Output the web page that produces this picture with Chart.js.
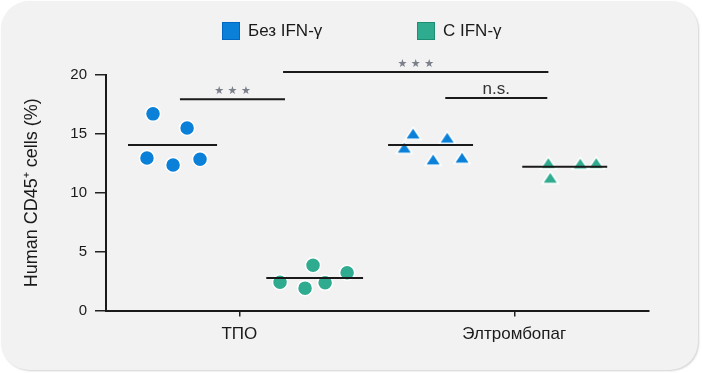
<!DOCTYPE html>
<html>
<head>
<meta charset="utf-8">
<script src="https://cdn.jsdelivr.net/npm/chart.js@4.4.1/dist/chart.umd.min.js"></script>
<style>
  html, body { margin: 0; padding: 0; background: #ffffff; }
  #wrap { position: relative; width: 702px; height: 373px; overflow: hidden; }
  #panel {
    position: absolute; left: 1px; top: 1px; width: 697px; height: 369px;
    background: #f2f2f2; border-radius: 28px;
    box-shadow: 1px 1px 2px rgba(0, 0, 0, 0.18);
  }
  canvas { position: absolute; left: 0; top: 0; }
  .legend-item {
    position: absolute; top: 22px; height: 18px; display: flex; align-items: center;
    font-family: "Liberation Sans", Arial, sans-serif; font-size: 17px; color: #1a1a1a;
  }
  .legend-box { width: 16px; height: 16px; margin-right: 8px; border: 1px solid; }
</style>
</head>
<body>
<div id="wrap">
  <div id="panel"></div>
  <canvas id="chart" width="702" height="373"></canvas>
  <div id="legend"></div>
</div>
<script>
//
// DATA
//

const categories = ["ТПО", "Элтромбопаг"];
const seriesNames = ["Без IFN-γ", "С IFN-γ"];
const seriesColors = ["#0a80d8", "#2fab8f"];
const seriesBorders = ["#0066c4", "#1c8e72"];
const yTicks = [0, 5, 10, 15, 20];

// individual animals, x is the jitter position around each category (1 = ТПО, 2 = Элтромбопаг)
const tpoNoIfnX = [0.686, 0.81, 0.664, 0.759, 0.857];
const tpoNoIfnY = [16.7, 15.5, 12.95, 12.35, 12.85];
const tpoIfnX = [1.148, 1.268, 1.239, 1.312, 1.392];
const tpoIfnY = [2.4, 3.85, 1.9, 2.35, 3.2];
const eltNoIfnX = [1.632, 1.756, 1.6, 1.705, 1.81];
const eltNoIfnY = [15.05, 14.7, 13.85, 12.85, 13.0];
const eltIfnX = [2.124, 2.24, 2.298, 2.131];
const eltIfnY = [12.55, 12.5, 12.55, 11.3];

// group means
const meanValues = [14.05, 2.75, 14.05, 12.2];
const meanStart = [0.595, 1.098, 1.541, 2.029];
const meanEnd = [0.919, 1.45, 1.85, 2.338];

// significance brackets
const sigStart = [0.784, 1.159, 1.749];
const sigEnd = [1.166, 2.124, 2.12];
const sigLevel = [17.95, 20.25, 18.04];
const sigLabels = ["★ ★ ★", "★ ★ ★", "n.s."];

//
// HELPER FUNCTIONS
//

function toPoints(xs, ys, shape) {
  return xs.map((x, i) => ({ x: x, y: ys[i], shape: shape }));
}

function segment(x0, x1, y) {
  return [{ x: x0, y: y }, { x: x1, y: y }];
}

// flat triangle marker with a white halo, used as a Chart.js pointStyle
function makeTriangle(color) {
  const c = document.createElement("canvas");
  c.width = 20;
  c.height = 16;
  const g = c.getContext("2d");
  g.beginPath();
  g.moveTo(10, 2);
  g.lineTo(18, 14);
  g.lineTo(2, 14);
  g.closePath();
  g.fillStyle = color;
  g.fill();
  g.lineWidth = 1.5;
  g.strokeStyle = "#ffffff";
  g.stroke();
  return c;
}

function buildLegend() {
  const legendElem = document.getElementById("legend");
  const lefts = [222, 417];
  seriesNames.forEach((name, i) => {
    const item = document.createElement("div");
    item.className = "legend-item";
    item.style.left = lefts[i] + "px";
    const box = document.createElement("span");
    box.className = "legend-box";
    box.style.background = seriesColors[i];
    box.style.borderColor = seriesBorders[i];
    item.appendChild(box);
    item.appendChild(document.createTextNode(name));
    legendElem.appendChild(item);
  });
}

const sigLabelPlugin = {
  id: "sigLabels",
  afterDatasetsDraw(chart) {
    const { ctx, scales } = chart;
    ctx.save();
    ctx.textAlign = "center";
    ctx.textBaseline = "middle";
    sigLabels.forEach((label, i) => {
      const x = scales.x.getPixelForValue((sigStart[i] + sigEnd[i]) / 2);
      const y = scales.y.getPixelForValue(sigLevel[i]);
      if (label === "n.s.") {
        ctx.font = '17px "Liberation Sans", Arial, sans-serif';
        ctx.fillStyle = "#333333";
        ctx.fillText(label, x, y - 9);
      } else {
        ctx.font = '11px "DejaVu Sans", sans-serif';
        ctx.fillStyle = "#7a7f8a";
        ctx.fillText(label, x, y - 8);
      }
    });
    ctx.restore();
  },
};

//
// CHART
//

const triangles = seriesColors.map(makeTriangle);

const noIfnPoints = toPoints(tpoNoIfnX, tpoNoIfnY, "circle").concat(
  toPoints(eltNoIfnX, eltNoIfnY, "triangle")
);
const ifnPoints = toPoints(tpoIfnX, tpoIfnY, "circle").concat(
  toPoints(eltIfnX, eltIfnY, "triangle")
);

const pointDatasets = [noIfnPoints, ifnPoints].map((pts, i) => ({
  type: "scatter",
  label: seriesNames[i],
  data: pts,
  order: 2,
  backgroundColor: seriesColors[i],
  borderColor: "#ffffff",
  borderWidth: 1.5,
  pointStyle: (c) => (c.raw && c.raw.shape === "triangle" ? triangles[i] : "circle"),
  pointRadius: 7.5,
}));

const meanDatasets = meanValues.map((m, i) => ({
  type: "line",
  label: "mean",
  data: segment(meanStart[i], meanEnd[i], m),
  order: 1,
  borderColor: "#1a1a1a",
  borderWidth: 2,
  pointRadius: 0,
}));

const sigDatasets = sigLevel.map((lvl, i) => ({
  type: "line",
  label: "sig",
  data: segment(sigStart[i], sigEnd[i], lvl),
  order: 1,
  clip: false,
  borderColor: "#1a1a1a",
  borderWidth: 2,
  pointRadius: 0,
}));

new Chart(document.getElementById("chart"), {
  type: "scatter",
  data: { datasets: meanDatasets.concat(sigDatasets, pointDatasets) },
  plugins: [sigLabelPlugin],
  options: {
    responsive: false,
    animation: false,
    layout: { padding: { top: 75, left: 0, right: 53, bottom: 0 } },
    plugins: { legend: { display: false }, tooltip: { enabled: false } },
    scales: {
      x: {
        type: "linear",
        min: 0.515,
        max: 2.49,
        afterFit: (scale) => { scale.height = 62.5; },
        afterBuildTicks: (scale) => {
          scale.ticks = categories.map((c, i) => ({ value: i + 1 }));
        },
        ticks: {
          callback: (v) => categories[v - 1],
          color: "#1a1a1a",
          padding: 8,
          font: { family: '"Liberation Sans", Arial, sans-serif', size: 17 },
        },
        grid: { drawOnChartArea: false, drawTicks: true, tickLength: 6, color: "#222222", lineWidth: 1.5 },
        border: { color: "#1a1a1a", width: 2 },
      },
      y: {
        min: 0,
        max: 20,
        afterFit: (scale) => { scale.width = 106; },
        afterBuildTicks: (scale) => {
          scale.ticks = yTicks.map((v) => ({ value: v }));
        },
        ticks: {
          color: "#1a1a1a",
          padding: 8,
          font: { family: '"Liberation Sans", Arial, sans-serif', size: 15 },
        },
        grid: { drawOnChartArea: false, drawTicks: true, tickLength: 11, color: "#222222", lineWidth: 1.5 },
        border: { color: "#1a1a1a", width: 2 },
        title: {
          display: true,
          text: "Human CD45⁺ cells (%)",
          color: "#1a1a1a",
          padding: { top: 21, bottom: 0 },
          font: { family: '"Liberation Sans", Arial, sans-serif', size: 18 },
        },
      },
    },
  },
});

buildLegend();
</script>
</body>
</html>
